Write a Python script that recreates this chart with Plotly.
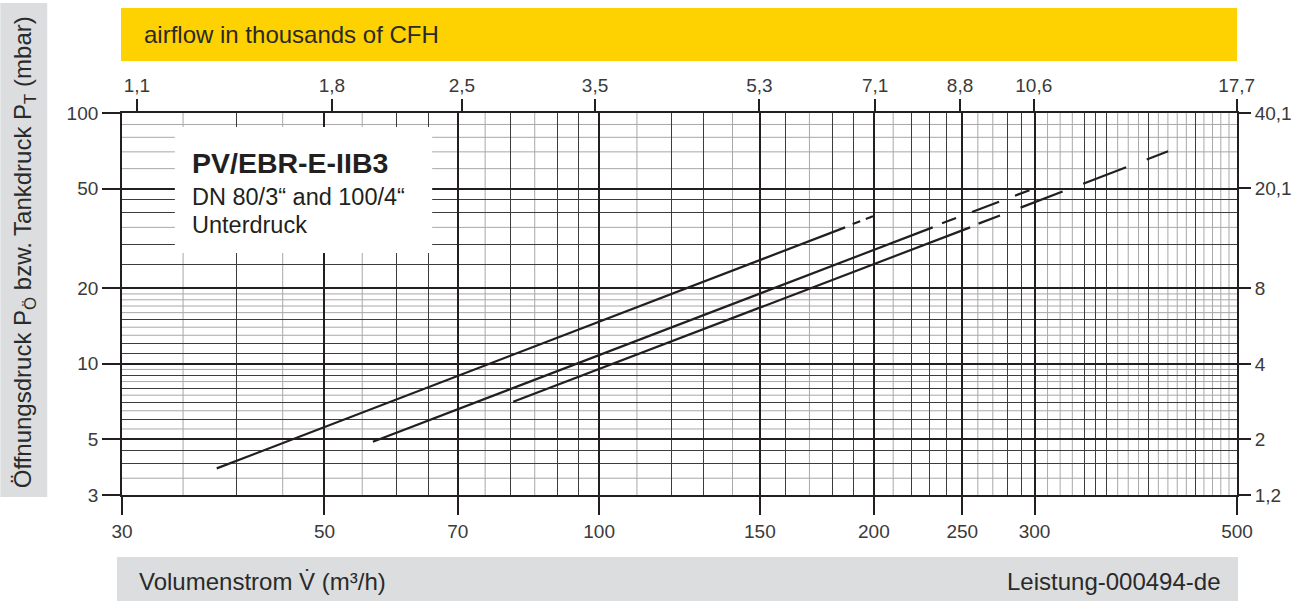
import math
import plotly.graph_objects as go

# ---------------- data ----------------
# each curve: start of solid line, end of solid line, end of dashed extension
flow_c1 = [38.1, 186.0, 200.0]
pres_c1 = [3.83, 35.0, 38.7]
flow_c2 = [56.5, 232.0, 297.0]
pres_c2 = [4.89, 35.0, 49.2]
flow_c3 = [80.5, 255.0, 421.5]
pres_c3 = [7.06, 35.0, 70.3]

# axis ticks
x_ticks = [30, 50, 70, 100, 150, 200, 250, 300, 500]
x_ticklabels = ["30", "50", "70", "100", "150", "200", "250", "300", "500"]
cfh_ticks = [1.1, 1.8, 2.5, 3.5, 5.3, 7.1, 8.8, 10.6, 17.7]
cfh_ticklabels = ["1,1", "1,8", "2,5", "3,5", "5,3", "7,1", "8,8", "10,6", "17,7"]
y_ticks = [3, 5, 10, 20, 50, 100]
y_ticklabels = ["3", "5", "10", "20", "50", "100"]
inwc_ticks = [40.1, 20.1, 8, 4, 2, 1.2]
inwc_ticklabels = ["40,1", "20,1", "8", "4", "2", "1,2"]

# grid lines
x_grid_dark = [40, 60, 65, 80, 90, 95, 120, 130, 160, 180, 190, 220, 230, 240,
               280, 290, 340, 350, 360, 400, 450]
x_grid_light = [35, 45, 55, 75, 85, 110, 140, 170, 210, 260, 270, 310, 320, 330,
                370, 380, 390, 410, 420, 430, 440, 460, 470, 480, 490]
y_grid_dark = [4, 4.5, 6, 7, 8, 9, 11, 12, 15, 25, 30, 40, 45]
y_grid_light = [3.5, 5.5, 6.5, 7.5, 8.5, 9.5, 13, 14, 16, 17, 18, 19, 35, 60, 70, 80, 90]

M3H_PER_KCFH = 28.3168   # m³/h per 1000 CFH
INWC_PER_MBAR = 0.40146  # inch water column per mbar

# ---------------- styles ----------------
INK = "#231f20"
TXT = "#3a3a3a"
DARK = "#3c3c3c"
LIGHT = "#a8a8a8"
FONT = "Liberation Sans, Arial, sans-serif"

xr = [math.log10(30), math.log10(500)]
yr = [math.log10(3), math.log10(100)]
# secondary scales; edge values nudged so the rounded edge labels (17,7 / 1,2) stay in range
x2r = [math.log10(30 / M3H_PER_KCFH), math.log10(501.6 / M3H_PER_KCFH)]
y2r = [math.log10(2.985 * INWC_PER_MBAR), math.log10(100 * INWC_PER_MBAR)]

fig = go.Figure()

curves = [
    (flow_c1, pres_c1, "0px,9px,8px,6px,40px,100px"),
    (flow_c2, pres_c2, "0px,11px,15px,17px,29px,17px,40px,100px"),
    (flow_c3, pres_c3, "0px,10px,23px,22px,45px,22px,46px,22px,40px,100px"),
]
for fx, fy, dash in curves:
    # solid part in m³/h and mbar (bottom / left scales)
    fig.add_trace(go.Scatter(x=fx[:2], y=fy[:2], mode="lines",
                             line=dict(color=INK, width=2.2), hoverinfo="skip"))
    # dashed extension drawn in thousands of CFH and inch WC (top / right scales)
    fig.add_trace(go.Scatter(x=[v / M3H_PER_KCFH for v in fx[1:]],
                             y=[p * INWC_PER_MBAR for p in fy[1:]],
                             xaxis="x2", yaxis="y2", mode="lines",
                             line=dict(color=INK, width=2.2, dash=dash), hoverinfo="skip"))

tickfont = dict(family=FONT, size=19, color=TXT)

fig.update_layout(
    width=1304, height=601,
    margin=dict(l=122, r=64, t=113, b=106),
    paper_bgcolor="white", plot_bgcolor="white",
    showlegend=False,
    font=dict(family=FONT, color=TXT),
    xaxis=dict(type="log", range=xr, tickvals=x_ticks, ticktext=x_ticklabels,
               ticks="outside", ticklen=18, tickwidth=1.8, tickcolor=INK,
               showgrid=True, gridcolor=INK, gridwidth=1.8,
               minor=dict(tickvals=x_grid_dark, showgrid=True, gridcolor=DARK,
                          gridwidth=1, ticks=""),
               showline=True, linecolor=INK, linewidth=1.8,
               tickfont=tickfont, fixedrange=True),
    xaxis2=dict(type="log", overlaying="x", anchor="y", side="top", range=x2r,
                tickvals=cfh_ticks, ticktext=cfh_ticklabels,
                ticks="outside", ticklen=12, tickwidth=1.8, tickcolor=INK,
                showgrid=False, showline=True, linecolor=INK, linewidth=1.8,
                tickfont=tickfont, fixedrange=True),
    yaxis=dict(type="log", range=yr, tickvals=y_ticks, ticktext=y_ticklabels,
               ticks="outside", ticklen=18, tickwidth=1.8, tickcolor=INK,
               showgrid=True, gridcolor=INK, gridwidth=1.8,
               minor=dict(tickvals=y_grid_dark, showgrid=True, gridcolor=DARK,
                          gridwidth=1, ticks=""),
               showline=True, linecolor=INK, linewidth=1.8,
               tickfont=tickfont, fixedrange=True),
    yaxis2=dict(type="log", overlaying="y", anchor="x", side="right", range=y2r,
                tickvals=inwc_ticks, ticktext=inwc_ticklabels,
                ticks="outside", ticklen=12, tickwidth=1.8, tickcolor=INK,
                showgrid=False, showline=True, linecolor=INK, linewidth=1.8,
                tickfont=tickfont, fixedrange=True),
)

# ---------- bands and boxes (paper coordinates) ----------
PW, PH = 1118.0, 382.0
def px(xp):
    return (xp - 122) / PW
def py(yp):
    return (495 - yp) / PH

shapes = []
# light grid lines through the axes' own scales
for v in x_grid_light:
    shapes.append(dict(type="line", xref="x", yref="paper", x0=v, x1=v, y0=0, y1=1,
                       line=dict(color=LIGHT, width=1), layer="below"))
for v in y_grid_light:
    shapes.append(dict(type="line", xref="paper", yref="y", x0=0, x1=1, y0=v, y1=v,
                       line=dict(color=LIGHT, width=1), layer="below"))

shapes += [
    dict(type="rect", xref="paper", yref="paper", x0=px(121), x1=px(1240),
         y0=py(61), y1=py(8), fillcolor="#fdd200", line=dict(width=0), layer="above"),
    dict(type="rect", xref="paper", yref="paper", x0=px(117), x1=px(1241),
         y0=py(601), y1=py(557), fillcolor="#dcddde", line=dict(width=0), layer="above"),
    dict(type="rect", xref="paper", yref="paper", x0=px(0), x1=px(47),
         y0=py(497), y1=py(3), fillcolor="#dcddde", line=dict(width=0), layer="above"),
    dict(type="rect", xref="paper", yref="paper", x0=px(175), x1=px(433),
         y0=py(253), y1=py(127), fillcolor="white", line=dict(width=0), layer="above"),
]
fig.update_layout(shapes=shapes)

ann = [
    dict(text="airflow in thousands of CFH", x=px(142), y=py(34), xanchor="left",
         yanchor="middle", font=dict(size=24, color="#2a2a2a")),
    dict(text="Volumenstrom V\u0307 (m\u00b3/h)", x=px(137), y=py(581), xanchor="left",
         yanchor="middle", font=dict(size=24, color="#2a2a2a")),
    dict(text="Leistung-000494-de", x=px(1226), y=py(581), xanchor="right",
         yanchor="middle", font=dict(size=24, color="#2a2a2a")),
    dict(text="\u00d6ffnungsdruck P<sub>\u00d6</sub> bzw. Tankdruck P<sub>T</sub> (mbar)",
         x=px(24), y=py(252), xanchor="center", yanchor="middle", textangle=-90,
         font=dict(size=24, color="#2a2a2a")),
    dict(text="<b>PV/EBR-E-IIB3</b>", x=px(190), y=py(163), xanchor="left",
         yanchor="middle", font=dict(size=28.5, color="#231f20")),
    dict(text="DN 80/3\u201c and 100/4\u201c", x=px(190), y=py(197), xanchor="left",
         yanchor="middle", font=dict(size=23.5, color="#231f20")),
    dict(text="Unterdruck", x=px(190), y=py(225), xanchor="left",
         yanchor="middle", font=dict(size=23.5, color="#231f20")),
]
for a in ann:
    a.update(xref="paper", yref="paper", showarrow=False)
fig.update_layout(annotations=ann)

fig.write_html("out.html", config={"displayModeBar": False},
               post_script="document.body.style.margin='0';")
